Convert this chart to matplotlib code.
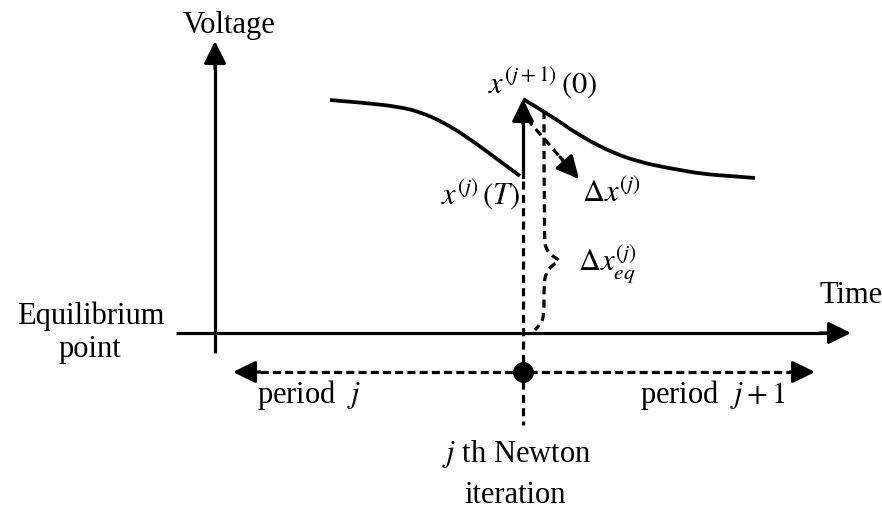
import matplotlib
matplotlib.use("Agg")
import matplotlib.pyplot as plt
from matplotlib.path import Path
from matplotlib.patches import PathPatch

plt.rcParams['font.family'] = ['Liberation Serif', 'DejaVu Serif']
plt.rcParams['mathtext.fontset'] = 'stix'
plt.rcParams['lines.scale_dashes'] = False

# ---- diagram data (pixel coordinates) ----
curve1_x = [330, 367, 400, 420, 443, 467, 493, 520]
curve1_y = [101, 104, 108, 113, 123, 138, 157, 177]
curve2_x = [523, 550, 580, 613, 640, 663, 680, 703, 730, 755]
curve2_y = [100, 116, 137, 154, 163, 168, 171, 175, 177, 179]
brace_x = [544, 544, 546, 552, 561, 552, 546, 544, 544, 541, 535]
brace_y = [112, 240, 250, 257, 262, 266, 274, 284, 316, 325, 331]

FS = 22
LW = 2.3
DASH = (5.8, 3.8)

fig = plt.figure(figsize=(8.82, 5.10), dpi=100)
ax = fig.add_axes([0, 0, 1, 1])
ax.set_xlim(0, 882)
ax.set_ylim(510, 0)
ax.axis('off')


def smooth(xs, ys, **kw):
    pts = list(zip(xs, ys))
    verts = [pts[0]]
    codes = [Path.MOVETO]
    for i in range(1, len(pts) - 1):
        mid = ((pts[i][0] + pts[i + 1][0]) / 2, (pts[i][1] + pts[i + 1][1]) / 2)
        if i == len(pts) - 2:
            mid = pts[-1]
        verts += [pts[i], mid]
        codes += [Path.CURVE3, Path.CURVE3]
    ax.add_patch(PathPatch(Path(verts, codes), fill=False, **kw))


def arrow(x0, y0, x1, y1, lw=LW, hl=0.85, hw=0.42):
    ax.annotate('', xy=(x1, y1), xytext=(x0, y0),
                arrowprops=dict(arrowstyle='-|>,head_length=%g,head_width=%g' % (hl, hw),
                                lw=lw, color='black', shrinkA=0, shrinkB=0,
                                mutation_scale=16))


# axes
ax.plot([215, 215], [354, 55], color='black', lw=LW, solid_capstyle='butt')
arrow(215, 70, 215, 42)
ax.plot([176, 840], [334, 334], color='black', lw=LW, solid_capstyle='butt')
arrow(820, 334, 851, 334)

# curves
smooth(curve1_x, curve1_y, color='black', lw=2.7, capstyle='butt')
smooth(curve2_x, curve2_y, color='black', lw=2.7, capstyle='butt')

# jump arrow
ax.plot([523, 523], [178, 112], color='black', lw=LW)
arrow(523, 125, 523, 100)

# vertical dashed line
ax.plot([523, 523], [182, 426], color='black', lw=LW, dashes=DASH)

# dashed arrow dx
ax.plot([527, 566], [120, 165], color='black', lw=LW, dashes=DASH)
arrow(560, 158, 579, 180)

# brace
smooth(brace_x, brace_y, color='black', lw=LW, linestyle=(0, DASH))

# period arrow
ax.plot([248, 800], [373, 373], color='black', lw=LW, dashes=(5.8, 3.0))
arrow(260, 373, 233, 373)
arrow(790, 373, 815, 373)
ax.plot([523], [373], 'o', color='black', ms=14)

# texts
ax.text(229, 33, 'Voltage', fontsize=FS, ha='center', va='baseline')
ax.text(91, 324, 'Equilibrium', fontsize=FS, ha='center', va='baseline')
ax.text(90, 357, 'point', fontsize=FS, ha='center', va='baseline')
ax.text(851, 303, 'Time', fontsize=FS, ha='center', va='baseline')
ax.text(257, 403, r'period  $j$', fontsize=FS, ha='left', va='baseline')
ax.text(640, 403, r'period  $j+1$', fontsize=FS, ha='left', va='baseline')
ax.text(517, 462, r'$j$ th Newton', fontsize=FS, ha='center', va='baseline')
ax.text(515, 503, 'iteration', fontsize=FS, ha='center', va='baseline')
ax.text(488, 92, r'$x^{(j+1)}\,(0)$', fontsize=FS, ha='left', va='baseline')
ax.text(520, 205, r'$x^{(j)}\,(T)$', fontsize=FS, ha='right', va='baseline')
ax.text(582, 202, r'$\Delta x^{(j)}$', fontsize=FS, ha='left', va='baseline')
ax.text(578, 272, r'$\Delta x_{eq}^{(j)}$', fontsize=FS, ha='left', va='baseline')

fig.savefig('out.png', dpi=100)
